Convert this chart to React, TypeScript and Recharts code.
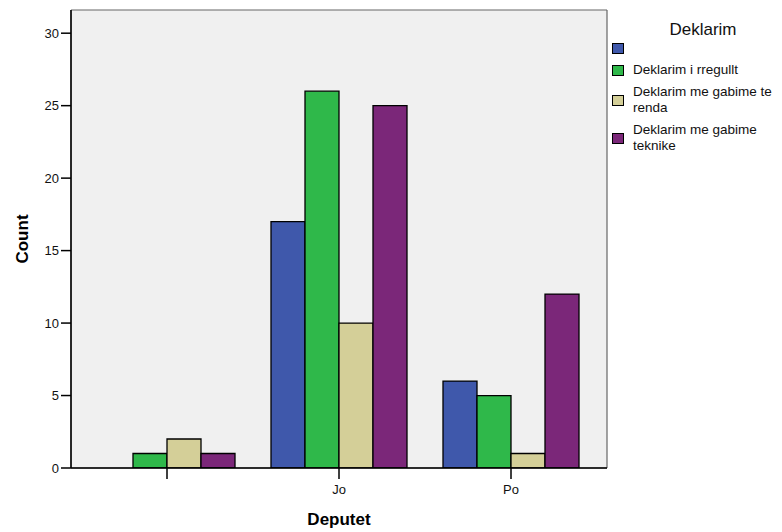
import { BarChart, Bar, XAxis, YAxis, CartesianGrid } from "recharts";

const categories = ["", "Jo", "Po"];
const seriesNames = ["", "Deklarim i rregullt", "Deklarim me gabime te renda", "Deklarim me gabime teknike"];
const blankCounts = [0, 17, 6];
const rregulltCounts = [1, 26, 5];
const rendaCounts = [2, 10, 1];
const teknikeCounts = [1, 25, 12];
const seriesColors = ["#3f58ab", "#2fb84a", "#d4cf98", "#7b2779"];
const yTicks = [0, 5, 10, 15, 20, 25, 30];
const yMax = 31.6;

const seriesValues = [blankCounts, rregulltCounts, rendaCounts, teknikeCounts];

const data = categories.map((cat, i) => ({
  deputet: cat,
  s0: blankCounts[i],
  s1: rregulltCounts[i],
  s2: rendaCounts[i],
  s3: teknikeCounts[i],
}));

const font = "'Liberation Sans', Arial, sans-serif";

// frame lines on the plot edges (taken from the chart offset)
const frameX = ({ offset }: any) => [offset.left, offset.left + offset.width];
const frameY = ({ offset }: any) => [offset.top, offset.top + offset.height];

const CountLabel = ({ viewBox }: any) => {
  const cy = viewBox.y + viewBox.height / 2;
  return (
    <text x={22} y={cy} transform={`rotate(-90 22 ${cy})`} textAnchor="middle" dominantBaseline="central"
      fontSize={17} fontWeight="bold" fill="#000" fontFamily={font}>
      Count
    </text>
  );
};

const DeputetLabel = ({ viewBox }: any) => {
  const cx = viewBox.x + viewBox.width / 2;
  return (
    <text x={cx} y={525} textAnchor="middle" fontSize={17} fontWeight="bold" fill="#000" fontFamily={font}>
      Deputet
    </text>
  );
};

export default function App() {
  return (
    <div style={{ position: "absolute", left: 0, top: 0, width: 782, height: 532, background: "#fff", fontFamily: font }}>
      <BarChart
        width={782}
        height={532}
        data={data}
        margin={{ top: 10, right: 175, bottom: 0, left: 0 }}
        barGap={0}
        barSize={34}
      >
        <CartesianGrid
          fill="#f0f0f0"
          stroke="#666"
          strokeWidth={1.2}
          verticalCoordinatesGenerator={frameX}
          horizontalCoordinatesGenerator={frameY}
        />
        <XAxis
          dataKey="deputet"
          height={64}
          padding={{ left: 10, right: 10 }}
          axisLine={{ stroke: "#000", strokeWidth: 1.5 }}
          tickLine={{ stroke: "#000", strokeWidth: 1.5 }}
          tickSize={11}
          tickMargin={6}
          tick={{ fill: "#111", fontSize: 13, fontFamily: font }}
          label={<DeputetLabel />}
        />
        <YAxis
          width={71}
          domain={[0, yMax]}
          ticks={yTicks}
          allowDataOverflow
          axisLine={{ stroke: "#000", strokeWidth: 1.5 }}
          tickLine={{ stroke: "#000", strokeWidth: 1.5 }}
          tickSize={10}
          tickMargin={2}
          tick={{ fill: "#111", fontSize: 13, fontFamily: font }}
          label={<CountLabel />}
        />
        {seriesValues.map((_, i) => (
          <Bar
            key={i}
            dataKey={`s${i}`}
            name={seriesNames[i]}
            fill={seriesColors[i]}
            stroke="#000"
            strokeWidth={1.3}
            isAnimationActive={false}
          />
        ))}
      </BarChart>

      <div style={{ position: "absolute", left: 624, top: 20, width: 158, textAlign: "center", fontSize: 17, lineHeight: "20px", color: "#111" }}>
        Deklarim
      </div>
      <div style={{ position: "absolute", left: 612, top: 40, width: 170 }}>
        {seriesNames.map((name, i) => (
          <div key={i} style={{ display: "flex", alignItems: "center", minHeight: 16, marginBottom: 6 }}>
            <div style={{ width: 12, height: 11, boxSizing: "border-box", border: "1.5px solid #000", background: seriesColors[i], flexShrink: 0, marginRight: 9 }} />
            <div style={{ fontSize: 13.5, lineHeight: "16px", width: 149, color: "#111" }}>{name}</div>
          </div>
        ))}
      </div>
    </div>
  );
}
